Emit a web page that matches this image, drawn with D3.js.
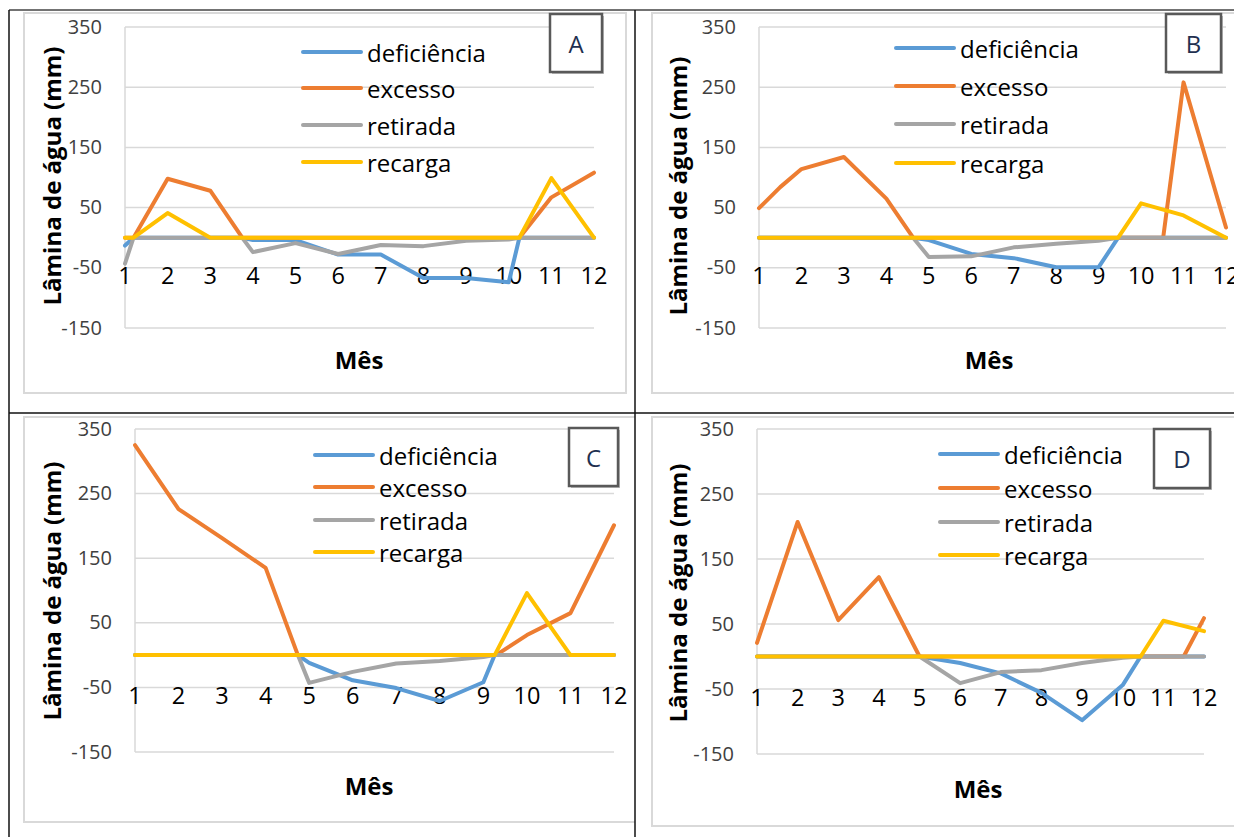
<!DOCTYPE html>
<html>
<head>
<meta charset="utf-8">
<script src="https://cdn.jsdelivr.net/npm/d3@7"></script>
<style>
  body { margin: 0; background: #fff; }
  svg { display: block; }
  text { font-family: "Open Sans", "Noto Sans", sans-serif; }
</style>
</head>
<body>
<div id="chart"></div>
<script>
const months = [1, 2, 3, 4, 5, 6, 7, 8, 9, 10, 11, 12];
const yTicks = [-150, -50, 50, 150, 250, 350];
const seriesNames = ["deficiência", "excesso", "retirada", "recarga"];
const seriesColors = ["#5b9bd5", "#ed7d31", "#a5a5a5", "#ffc000"];

// [mês, lâmina (mm)] — painel A
const aDeficiencia = [[1, -13], [1.2, 0], [3.75, 0], [4, -4], [5, -4], [6, -28], [7, -28], [8, -67], [9, -67], [10, -74], [10.25, 0], [12, 0]];
const aExcesso = [[1, 0], [1.2, 0], [2, 98], [3, 78], [3.75, 0], [10.25, 0], [11, 67], [12, 108]];
const aRetirada = [[1, -43], [1.2, 0], [3.75, 0], [4, -24], [5, -9], [6, -27], [7, -12], [8, -14], [9, -5], [10, -3], [10.25, 0], [12, 0]];
const aRecarga = [[1, 0], [1.2, 0], [2, 41], [3, 0], [10.25, 0], [11, 99], [12, 0]];

// painel B
const bDeficiencia = [[1, 0], [4.63, 0], [5, -4], [6, -27], [7, -34], [8, -49], [9, -49], [9.46, 0], [12, 0]];
const bExcesso = [[1, 49], [1.5, 84], [2, 114], [3, 134], [4, 65], [4.63, 0], [10.52, 0], [11, 258], [12, 17]];
const bRetirada = [[1, 0], [4.63, 0], [5, -32], [6, -31], [7, -16], [8, -10], [9, -5], [9.46, 0], [12, 0]];
const bRecarga = [[1, 0], [9.46, 0], [10, 57], [11, 37], [12, 0]];

// painel C
const cDeficiencia = [[1, 0], [4.74, 0], [5, -12], [6, -39], [7, -51], [8, -71], [9, -42], [9.26, 0], [12, 0]];
const cExcesso = [[1, 325], [2, 226], [3, 181], [4, 135], [4.74, 0], [9.29, 0], [10, 31], [11, 65], [12, 201]];
const cRetirada = [[1, 0], [4.74, 0], [5, -43], [6, -26], [7, -13], [8, -9], [9, -3], [9.26, 0], [12, 0]];
const cRecarga = [[1, 0], [9.26, 0], [10, 96], [11, 0], [12, 0]];

// painel D
const dDeficiencia = [[1, 0], [5, 0], [6, -10], [7, -26], [8, -56], [9, -98], [10, -44], [10.44, 0], [12, 0]];
const dExcesso = [[1, 21], [2, 207], [3, 56], [4, 122], [5, 0], [11.5, 0], [12, 59]];
const dRetirada = [[1, 0], [5, 0], [6, -41], [7, -24], [8, -21], [9, -10], [10, -2], [10.44, 0], [12, 0]];
const dRecarga = [[1, 0], [10.44, 0], [11, 55], [12, 39]];

const panels = [
  { label: "A", series: [aDeficiencia, aExcesso, aRetirada, aRecarga],
    plot: { x0: 125, x1: 594, top: 27, bottom: 328 },
    area: { x0: 24, y0: 13, x1: 626, y1: 393 },
    legend: { x: 303, rows: [52, 88, 125, 162] },
    box: { x0: 550, y0: 14, x1: 602, y1: 72 },
    yLab: [51, 176], xLab: [359, 369] },
  { label: "B", series: [bDeficiencia, bExcesso, bRetirada, bRecarga],
    plot: { x0: 759, x1: 1226, top: 27, bottom: 328 },
    area: { x0: 652, y0: 13, x1: 1250, y1: 393 },
    legend: { x: 896, rows: [48, 86, 124, 163] },
    box: { x0: 1166, y0: 14, x1: 1221, y1: 72 },
    yLab: [677, 186], xLab: [989, 369] },
  { label: "C", series: [cDeficiencia, cExcesso, cRetirada, cRecarga],
    plot: { x0: 135, x1: 614, top: 429, bottom: 752 },
    area: { x0: 24, y0: 417, x1: 660, y1: 822 },
    legend: { x: 315, rows: [455, 487, 520, 552] },
    box: { x0: 569, y0: 428, x1: 618, y1: 486 },
    yLab: [51, 591], xLab: [369, 795] },
  { label: "D", series: [dDeficiencia, dExcesso, dRetirada, dRecarga],
    plot: { x0: 757, x1: 1204, top: 429, bottom: 754 },
    area: { x0: 652, y0: 417, x1: 1250, y1: 826 },
    legend: { x: 940, rows: [454, 488, 522, 555] },
    box: { x0: 1154, y0: 429, x1: 1210, y1: 488 },
    yLab: [677, 593], xLab: [978, 798] }
];

const W = 1234, H = 837;
const svg = d3.select("#chart").append("svg").attr("width", W).attr("height", H);

// table cells
const cells = [[9, 10, 635, 413], [635, 10, 1240, 413], [9, 413, 635, 845], [635, 413, 1240, 845]];

panels.forEach((p, i) => {
  const [cx0, cy0, cx1, cy1] = cells[i];
  const clipId = `cell-${p.label}`;
  svg.append("clipPath").attr("id", clipId)
    .append("rect").attr("x", cx0).attr("y", cy0).attr("width", cx1 - cx0).attr("height", cy1 - cy0);
  const g = svg.append("g").attr("clip-path", `url(#${clipId})`);

  const x = d3.scaleLinear().domain([1, 12]).range([p.plot.x0, p.plot.x1]);
  const y = d3.scaleLinear().domain([-150, 350]).range([p.plot.bottom, p.plot.top]);

  // chart area border
  g.append("rect")
    .attr("x", p.area.x0).attr("y", p.area.y0)
    .attr("width", p.area.x1 - p.area.x0).attr("height", p.area.y1 - p.area.y0)
    .attr("fill", "none").attr("stroke", "#d9d9d9").attr("stroke-width", 2);

  // gridlines
  g.append("g")
    .selectAll("line")
    .data(yTicks)
    .join("line")
    .attr("x1", p.plot.x0).attr("x2", p.plot.x1)
    .attr("y1", (d) => y(d)).attr("y2", (d) => y(d))
    .attr("stroke", "#d9d9d9").attr("stroke-width", 1.5);

  g.append("line")
    .attr("x1", p.plot.x0).attr("x2", p.plot.x0)
    .attr("y1", y(350)).attr("y2", y(-150))
    .attr("stroke", "#d9d9d9").attr("stroke-width", 1.5);

  // y tick labels
  g.append("g")
    .selectAll("text")
    .data(yTicks)
    .join("text")
    .attr("x", p.plot.x0 - 23)
    .attr("y", (d) => y(d) - 1)
    .attr("text-anchor", "end")
    .attr("dominant-baseline", "central")
    .attr("font-size", 20)
    .attr("fill", "#404040")
    .text((d) => d);

  // x tick labels
  g.append("g")
    .selectAll("text")
    .data(months)
    .join("text")
    .attr("x", (d) => x(d))
    .attr("y", y(-50) + 16.5)
    .attr("text-anchor", "middle")
    .attr("font-size", 23.5)
    .attr("fill", "#000")
    .text((d) => d);

  // series
  const line = d3.line().x((d) => x(d[0])).y((d) => y(d[1]));
  g.append("g")
    .selectAll("path")
    .data(p.series)
    .join("path")
    .attr("d", line)
    .attr("fill", "none")
    .attr("stroke", (d, k) => seriesColors[k])
    .attr("stroke-width", 4)
    .attr("stroke-linejoin", "round")
    .attr("stroke-linecap", "round");

  // legend
  const leg = g.append("g")
    .selectAll("g")
    .data(seriesNames)
    .join("g")
    .attr("transform", (d, k) => `translate(${p.legend.x},${p.legend.rows[k]})`);
  leg.append("line")
    .attr("x1", 0).attr("x2", 58)
    .attr("stroke", (d, k) => seriesColors[k])
    .attr("stroke-width", 4)
    .attr("stroke-linecap", "round");
  leg.append("text")
    .attr("x", 64)
    .attr("dominant-baseline", "central")
    .attr("font-size", 24)
    .attr("fill", "#000")
    .text((d) => d);

  // panel letter box
  const bw = p.box.x1 - p.box.x0, bh = p.box.y1 - p.box.y0;
  g.append("rect")
    .attr("x", p.box.x0 + 2).attr("y", p.box.y0 + 2).attr("width", bw).attr("height", bh)
    .attr("fill", "#bdbdbd");
  g.append("rect")
    .attr("x", p.box.x0).attr("y", p.box.y0).attr("width", bw).attr("height", bh)
    .attr("fill", "#fff").attr("stroke", "#595959").attr("stroke-width", 2.5);
  g.append("text")
    .attr("x", p.box.x0 + bw / 2).attr("y", p.box.y0 + bh / 2)
    .attr("text-anchor", "middle")
    .attr("dominant-baseline", "central")
    .attr("font-size", 24)
    .attr("fill", "#1f3050")
    .text(p.label);

  // axis titles
  g.append("text")
    .attr("transform", `translate(${p.yLab[0]},${p.yLab[1]}) rotate(-90)`)
    .attr("text-anchor", "middle")
    .attr("dominant-baseline", "central")
    .attr("font-size", 24)
    .attr("font-weight", 700)
    .attr("fill", "#000")
    .text("Lâmina de água (mm)");
  g.append("text")
    .attr("x", p.xLab[0]).attr("y", p.xLab[1])
    .attr("text-anchor", "middle")
    .attr("font-size", 24)
    .attr("font-weight", 700)
    .attr("fill", "#000")
    .text("Mês");
});

// table grid
const grid = svg.append("g").attr("stroke", "#111").attr("stroke-width", 1.5);
grid.append("line").attr("x1", 9).attr("x2", W).attr("y1", 10).attr("y2", 10).attr("stroke", "#444");
grid.append("line").attr("x1", 9).attr("x2", 9).attr("y1", 10).attr("y2", H);
grid.append("line").attr("x1", 635).attr("x2", 635).attr("y1", 10).attr("y2", H);
grid.append("line").attr("x1", 9).attr("x2", W).attr("y1", 413).attr("y2", 413);
</script>
</body>
</html>
